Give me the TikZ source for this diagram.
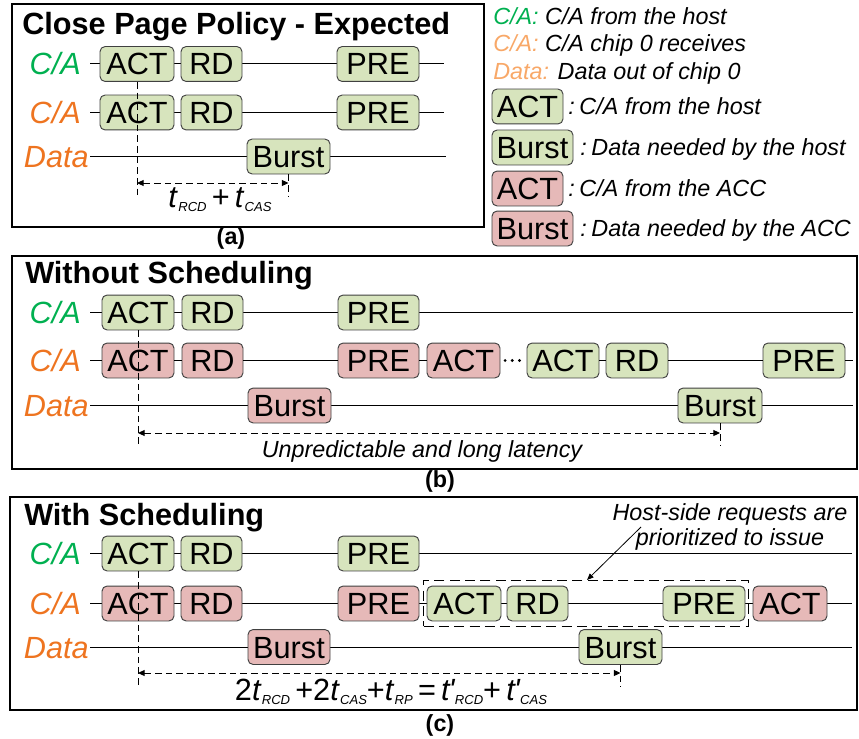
\documentclass[tikz,border=0pt]{standalone}
\usepackage{fontspec}
\setmainfont{Liberation Sans}
\usetikzlibrary{arrows.meta,fit}

\definecolor{hostgreen}{HTML}{00B050}
\definecolor{chiporange}{HTML}{EE7420}
\definecolor{legorange}{HTML}{F8A868}
\definecolor{hostfill}{HTML}{D7E4BD}
\definecolor{accfill}{HTML}{E6B9B8}
\definecolor{boxedge}{HTML}{404040}

\newcommand\bigfont{\fontsize{23}{27}\selectfont}
\newcommand\smallfont{\fontsize{17.5}{21}\selectfont}
\newcommand\subfont{\fontsize{9.8}{10}\selectfont\itshape}
% timing parameter t with a lowered italic subscript
\newcommand\tsub[1]{\textit{t}\kern0.2pt\raisebox{-3.6pt}{\subfont #1}}
% primed timing parameter
\newcommand\tpsub[1]{\textit{t\kern-0.6pt\textquotesingle}\kern-0.4pt\raisebox{-3.6pt}{\subfont #1}}
% command box: style, name, left x, right x, centre y, text
\newcommand\cmdbox[6]{\node[#1, minimum width={(#4-#3)*0.75pt}] (#2) at ({(#3+#4)/2},#5) {#6};}

\tikzset{
  x=0.75pt, y=-0.75pt,
  cmd/.style={draw=boxedge, line width=0.7pt, rounded corners=3.8pt, inner sep=0pt,
    minimum height=26.2pt, font=\bigfont, text height=16.5pt, text depth=0pt},
  host/.style={cmd, fill=hostfill},
  acc/.style={cmd, fill=accfill},
  panel/.style={draw=black, line width=1.5pt},
  heading/.style={font=\bigfont\bfseries, anchor=base west, inner sep=0pt},
  hostlane/.style={font=\bigfont\itshape, text=hostgreen, anchor=east, inner sep=0pt,
    text height=16.5pt, text depth=0pt},
  chiplane/.style={hostlane, text=chiporange},
  wire/.style={line width=0.75pt},
  guide/.style={line width=0.75pt, dash pattern=on 5pt off 3pt},
  span/.style={guide, {Triangle[length=5pt,width=4.5pt]}-{Triangle[length=5pt,width=4.5pt]}},
  note/.style={font=\smallfont\itshape, inner sep=0pt},
  caption/.style={font=\smallfont\bfseries, inner sep=0pt},
  formula/.style={font=\bigfont, inner sep=0pt, anchor=base},
}

\begin{document}
\begin{tikzpicture}
\useasboundingbox (0,0) rectangle (859,738);

% ---------------- (a) close page policy ----------------
\draw[panel] (12,4) rectangle (484,227);
\node[heading] (ttla) at (22,35) {Close Page Policy - Expected};
\node[hostlane] (la1) at (81,64) {C/A};
\node[chiplane] (la2) at (81,112.5) {C/A};
\node[chiplane] (la3) at (89,156.5) {Data};

\coordinate (a1s) at (90,64);    \coordinate (a1e) at (444,64);
\coordinate (a2s) at (90,112.5); \coordinate (a2e) at (444,112.5);
\coordinate (a3s) at (90,156.5); \coordinate (a3e) at (446,156.5);
\draw[wire] (a1s) -- (a1e);
\draw[wire] (a2s) -- (a2e);
\draw[wire] (a3s) -- (a3e);

\cmdbox{host}{a1act}{100}{174}{64}{ACT}
\cmdbox{host}{a1rd}{181}{242}{64}{RD}
\cmdbox{host}{a1pre}{337}{419}{64}{PRE}
\cmdbox{host}{a2act}{100}{174}{112.5}{ACT}
\cmdbox{host}{a2rd}{181}{242}{112.5}{RD}
\cmdbox{host}{a2pre}{337}{419}{112.5}{PRE}
\cmdbox{host}{a3burst}{247}{330}{156.5}{Burst}

\coordinate (afootL) at (137,197);
\coordinate (afootR) at (288.5,197);
\coordinate (aspanL) at (137,183);
\coordinate (aspanR) at (288.5,183);
\draw[guide] (a1act.south) -- (afootL);
\draw[guide] (a3burst.south) -- (afootR);
\draw[span] (aspanL) -- (aspanR);
\node[formula] (aform) at (220,207) {\tsub{RCD}\,+\,\tsub{CAS}};
\node[caption] (capa) at (231,238) {(a)};

% ---------------- legend ----------------
\node[note, anchor=base west] (leg1) at (493,25) {{\color{hostgreen}C/A:} C/A from the host};
\node[note, anchor=base west] (leg2) at (493,52) {{\color{legorange}C/A:} C/A chip 0 receives};
\node[note, anchor=base west] (leg3) at (493,80) {{\color{legorange}Data:} Data out of chip 0};
\cmdbox{host}{kact}{492}{563}{106.5}{ACT}
\node[note, anchor=base west] (kacttxt) at (568,114.5) {:\kern3.5pt C/A from the host};
\cmdbox{host}{kburst}{492}{573}{147.5}{Burst}
\node[note, anchor=base west] (kbursttxt) at (580,155.5) {:\kern3.5pt Data needed by the host};
\cmdbox{acc}{kacc}{492}{563}{188.5}{ACT}
\node[note, anchor=base west] (kacctxt) at (568,196.5) {:\kern3.5pt C/A from the ACC};
\cmdbox{acc}{kaccburst}{492}{573}{228.5}{Burst}
\node[note, anchor=base west] (kaccbursttxt) at (580,236.5) {:\kern3.5pt Data needed by the ACC};

% ---------------- (b) without scheduling ----------------
\draw[panel] (12,256) rectangle (857,469);
\node[heading] (ttlb) at (25,283) {Without Scheduling};
\node[hostlane] (lb1) at (81,312.5) {C/A};
\node[chiplane] (lb2) at (81,360.5) {C/A};
\node[chiplane] (lb3) at (89,405.5) {Data};

\coordinate (b1s) at (90,312.5); \coordinate (b1e) at (853,312.5);
\coordinate (b2s) at (90,360.5); \coordinate (b2e) at (853,360.5);
\coordinate (b3s) at (90,405.5); \coordinate (b3e) at (853,405.5);
\draw[wire] (b1s) -- (b1e);
\draw[wire] (b3s) -- (b3e);

\cmdbox{host}{b1act}{102}{174}{312.5}{ACT}
\cmdbox{host}{b1rd}{182}{243}{312.5}{RD}
\cmdbox{host}{b1pre}{338}{419}{312.5}{PRE}
\cmdbox{acc}{b2act}{102}{174}{360.5}{ACT}
\cmdbox{acc}{b2rd}{182}{243}{360.5}{RD}
\cmdbox{acc}{b2pre}{338}{419}{360.5}{PRE}
\cmdbox{acc}{b2act2}{427}{500}{360.5}{ACT}
\cmdbox{host}{b2act3}{527}{599}{360.5}{ACT}
\cmdbox{host}{b2rd2}{606}{668}{360.5}{RD}
\cmdbox{host}{b2pre2}{763}{845}{360.5}{PRE}
\cmdbox{acc}{b3burst}{248}{331}{405.5}{Burst}
\cmdbox{host}{b3burst2}{678}{762}{405.5}{Burst}

% row wire of the chip C/A, broken by the ellipsis
\draw[wire] (b2s) -- (b2act.west);
\draw[wire] (b2act.east) -- (b2rd.west);
\draw[wire] (b2rd.east) -- (b2pre.west);
\draw[wire] (b2pre.east) -- (b2act2.west);
\draw[line width=2.4pt, line cap=round, dash pattern=on 0pt off 5.4pt, shorten <=3.5pt, shorten >=2pt]
  (b2act2.east) -- (b2act3.west);
\draw[wire] (b2act3.east) -- (b2rd2.west);
\draw[wire] (b2rd2.east) -- (b2pre2.west);
\draw[wire] (b2pre2.east) -- (b2e);

\coordinate (bfootL) at (138,445);
\coordinate (bfootR) at (720,445);
\coordinate (bspanL) at (138,433);
\coordinate (bspanR) at (720,433);
\draw[guide] (b1act.south) -- (bfootL);
\draw[guide] (b3burst2.south) -- (bfootR);
\draw[span] (bspanL) -- (bspanR);
\node[note, anchor=base] (blat) at (422,457) {Unpredictable and long latency};
\node[caption] (capb) at (440,481) {(b)};

% ---------------- (c) with scheduling ----------------
\draw[panel] (10,497) rectangle (857,710);
\node[heading] (ttlc) at (24,525) {With Scheduling};
\node[hostlane] (lc1) at (81,553.5) {C/A};
\node[chiplane] (lc2) at (81,603.5) {C/A};
\node[chiplane] (lc3) at (89,647) {Data};

\coordinate (c1s) at (90,553.5); \coordinate (c1e) at (852,553.5);
\coordinate (c2s) at (90,603.5); \coordinate (c2e) at (852,603.5);
\coordinate (c3s) at (90,647);   \coordinate (c3e) at (852,647);
\draw[wire] (c1s) -- (c1e);
\draw[wire] (c2s) -- (c2e);
\draw[wire] (c3s) -- (c3e);

\cmdbox{host}{c1act}{102}{174}{553.5}{ACT}
\cmdbox{host}{c1rd}{181}{242}{553.5}{RD}
\cmdbox{host}{c1pre}{338}{419}{553.5}{PRE}
\cmdbox{acc}{c2act}{102}{174}{603.5}{ACT}
\cmdbox{acc}{c2rd}{181}{242}{603.5}{RD}
\cmdbox{acc}{c2pre}{338}{419}{603.5}{PRE}
\cmdbox{host}{c2act2}{427}{501}{603.5}{ACT}
\cmdbox{host}{c2rd2}{507}{568}{603.5}{RD}
\cmdbox{host}{c2pre2}{663}{745}{603.5}{PRE}
\cmdbox{acc}{c2act3}{753}{827}{603.5}{ACT}
\cmdbox{acc}{c3burst}{248}{330}{647}{Burst}
\cmdbox{host}{c3burst2}{579}{662}{647}{Burst}

% host-side requests moved ahead
\node[fit=(c2act2)(c2pre2), draw, line width=1pt, dash pattern=on 7.5pt off 4pt,
  inner xsep=2.2pt, inner ysep=3.7pt] (hl) {};
\node[note, anchor=base] (note1) at (730,520) {Host-side requests are};
\node[note, anchor=base] (note2) at (730,545) {prioritized to issue};
\coordinate (ntail) at (641,527);
\coordinate (nhead) at (587,580);
\draw[line width=0.6pt, -{Triangle[length=5pt,width=4pt]}] (ntail) -- (nhead);

\coordinate (cfootL) at (138,687);
\coordinate (cfootR) at (620.5,687);
\coordinate (cspanL) at (138,673);
\coordinate (cspanR) at (620.5,673);
\draw[guide] (c1act.south) -- (cfootL);
\draw[guide] (c3burst2.south) -- (cfootR);
\draw[span] (cspanL) -- (cspanR);
\node[formula] (cform) at (391,700)
  {2\tsub{RCD}\,+2\tsub{CAS}+\tsub{RP}\,=\,\tpsub{RCD}+\,\tpsub{CAS}};
\node[caption] (capc) at (440,725) {(c)};
\end{tikzpicture}
\end{document}
